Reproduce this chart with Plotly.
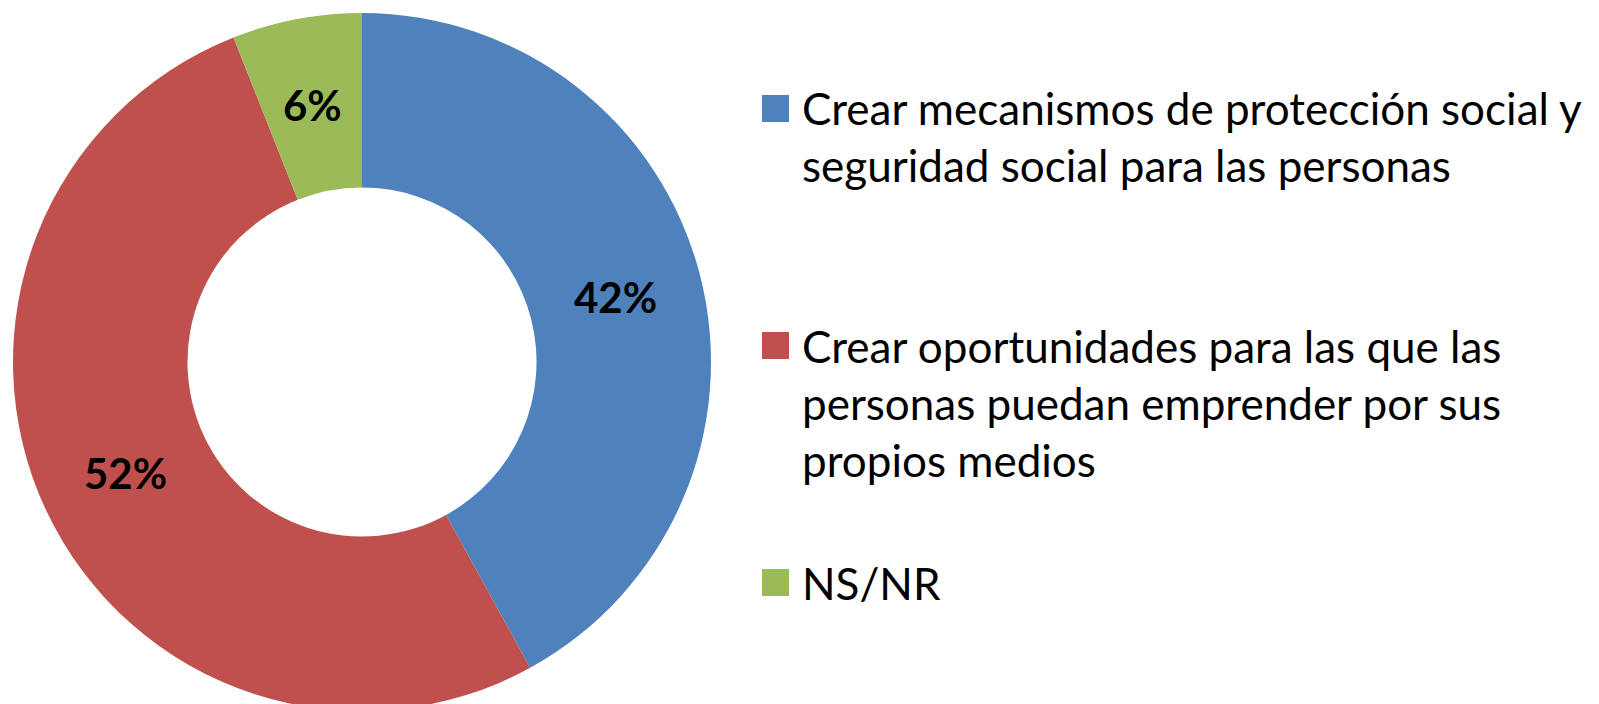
import math
import plotly.graph_objects as go

# Survey answer shares (percent)
categories = [
    "Crear mecanismos de protección social y<br>seguridad social para las personas",
    "Crear oportunidades para las que las<br>personas puedan emprender por sus<br>propios medios",
    "NS/NR",
]
values = [42, 52, 6]
colors = ["#4F81BD", "#C0504D", "#9BBB59"]

W, H = 1599, 724
FONT = "Lato, Carlito, Calibri, sans-serif"
HOLE = 0.5

# Pie area in pixels (left, right, top, bottom)
PX0, PX1, PY0, PY1 = 13, 711, 13, 711

fig = go.Figure(
    go.Pie(
        labels=categories,
        values=values,
        hole=HOLE,
        sort=False,
        direction="clockwise",
        rotation=0,
        marker=dict(colors=colors, line=dict(width=0)),
        textinfo="none",
        hoverinfo="label+percent",
        showlegend=False,
        domain=dict(x=[PX0 / W, PX1 / W], y=[1 - PY1 / H, 1 - PY0 / H]),
    )
)

# Percentage labels at the middle of each ring segment
cx, cy = (PX0 + PX1) / 2, (PY0 + PY1) / 2
R = min(PX1 - PX0, PY1 - PY0) / 2
r_mid = R * (1 + HOLE) / 2
total = sum(values)
cum = 0
for v in values:
    ang = 2 * math.pi * (cum + v / 2) / total  # clockwise from 12 o'clock
    cum += v
    lx = cx + r_mid * math.sin(ang)
    ly = cy - r_mid * math.cos(ang)
    fig.add_annotation(
        text=f"{v}%", xref="paper", yref="paper",
        x=lx / W, y=1 - ly / H, xanchor="center", yanchor="middle",
        showarrow=False,
        font=dict(family=FONT, size=42, color="black", weight="bold"),
    )

# Legend: colour swatch plus wrapped label for each category
swatch_tops = [95, 332, 569]
label_tops = [80, 318, 555]
for cat, col, st, lt in zip(categories, colors, swatch_tops, label_tops):
    fig.add_shape(
        type="rect", xref="paper", yref="paper",
        x0=762 / W, x1=789 / W, y0=1 - st / H, y1=1 - (st + 27) / H,
        fillcolor=col, line=dict(width=0),
    )
    fig.add_annotation(
        text=cat, xref="paper", yref="paper",
        x=800 / W, y=1 - lt / H, xanchor="left", yanchor="top",
        align="left", showarrow=False,
        font=dict(family=FONT, size=44, color="black"),
    )

fig.update_layout(
    width=W, height=H,
    margin=dict(l=0, r=0, t=0, b=0),
    paper_bgcolor="white", plot_bgcolor="white",
)

fig.write_html(
    "out.html",
    post_script="document.documentElement.style.overflow='hidden';document.body.style.overflow='hidden';",
)
